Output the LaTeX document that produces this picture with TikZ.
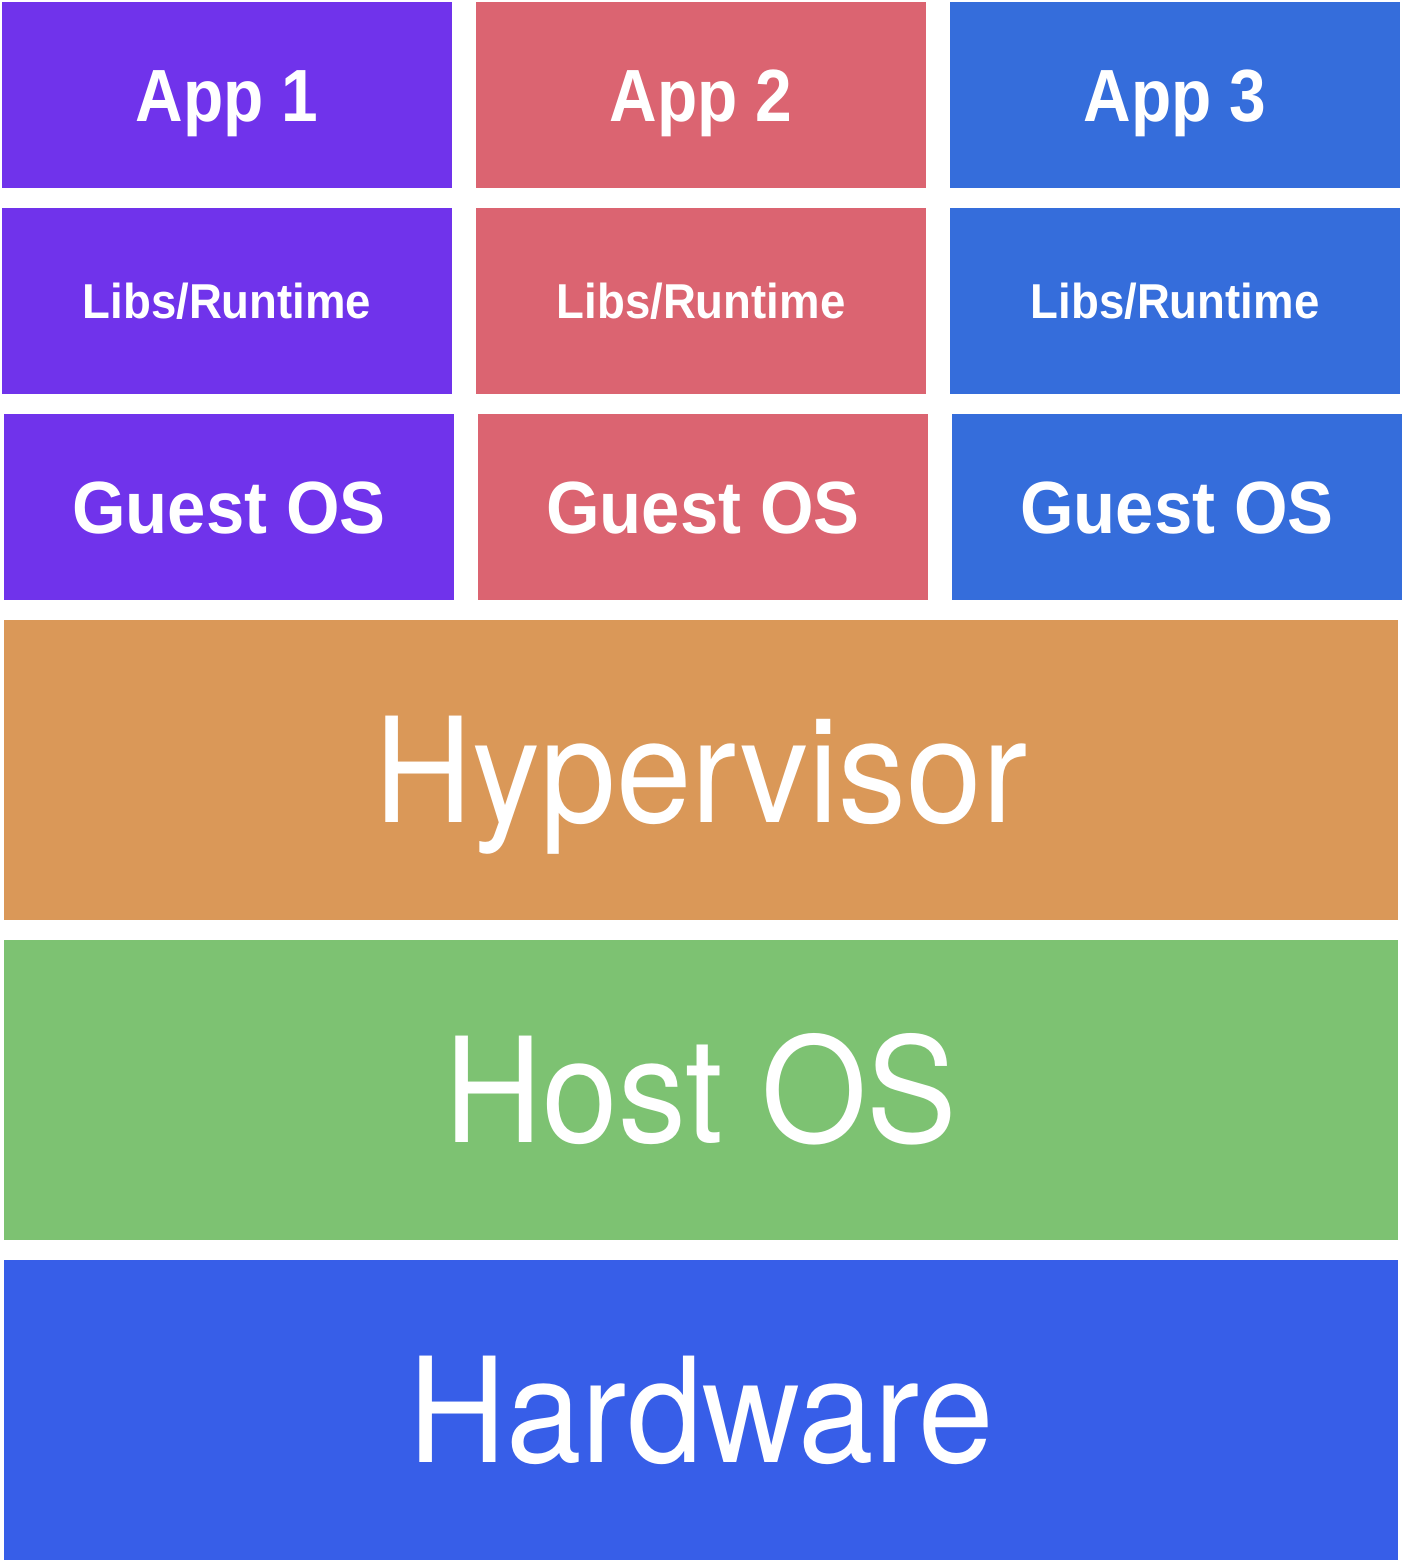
\documentclass[tikz,border=0pt]{standalone}
\usepackage{fontspec}
\setmainfont{TeX Gyre Heros}[FakeStretch=0.93]
\newfontfamily\boldlab{Liberation Sans}[BoldFont={* Bold}, FakeStretch=0.93]
\newfontfamily\applab{Liberation Sans}[BoldFont={* Bold}, FakeStretch=0.89]
\definecolor{cpurple}{HTML}{7033EB}
\definecolor{cred}{HTML}{DB6471}
\definecolor{cblue}{HTML}{356DDB}
\definecolor{corange}{HTML}{DA9858}
\definecolor{cgreen}{HTML}{7DC272}
\definecolor{chw}{HTML}{375EE8}
\tikzset{
  cell/.style={fill=#1, draw=none, inner sep=0pt, text=white, align=center},
  appbox/.style={cell=#1, minimum width=450pt, minimum height=186pt},
  layer/.style={cell=#1, minimum width=1394pt, minimum height=300pt},
  apptext/.style={font=\applab\bfseries\fontsize{74}{80}\selectfont, text height=53pt, text depth=0pt},
  ostext/.style={font=\boldlab\bfseries\fontsize{74}{80}\selectfont, text height=53pt, text depth=0pt},
  libtext/.style={font=\boldlab\bfseries\fontsize{49}{56}\selectfont, text height=35pt, text depth=0pt},
  bigtext/.style={font=\fontsize{146}{160}\selectfont, text height=104pt, text depth=0pt}
}
\begin{document}
\begin{tikzpicture}[x=1pt,y=-1pt]
\useasboundingbox (0,0) rectangle (1404,1562);
% row 1
\node[appbox=cpurple, apptext] (app1) at (227,95) {App 1};
\node[appbox=cred, apptext] (app2) at (701,95) {App 2};
\node[appbox=cblue, apptext] (app3) at (1175,95) {App 3};
% row 2
\node[appbox=cpurple, libtext] (lib1) at (227,301) {Libs/Runtime};
\node[appbox=cred, libtext] (lib2) at (701,301) {Libs/Runtime};
\node[appbox=cblue, libtext] (lib3) at (1175,301) {Libs/Runtime};
% row 3
\node[appbox=cpurple, ostext] (os1) at (229,507) {Guest OS};
\node[appbox=cred, ostext] (os2) at (703,507) {Guest OS};
\node[appbox=cblue, ostext] (os3) at (1177,507) {Guest OS};
% layers
\node[layer=corange, bigtext] (hyp) at (701,770) {Hypervisor};
\node[layer=cgreen, bigtext] (host) at (701,1090) {Host OS};
\node[layer=chw, bigtext] (hw) at (701,1410) {Hardware};
\end{tikzpicture}
\end{document}
